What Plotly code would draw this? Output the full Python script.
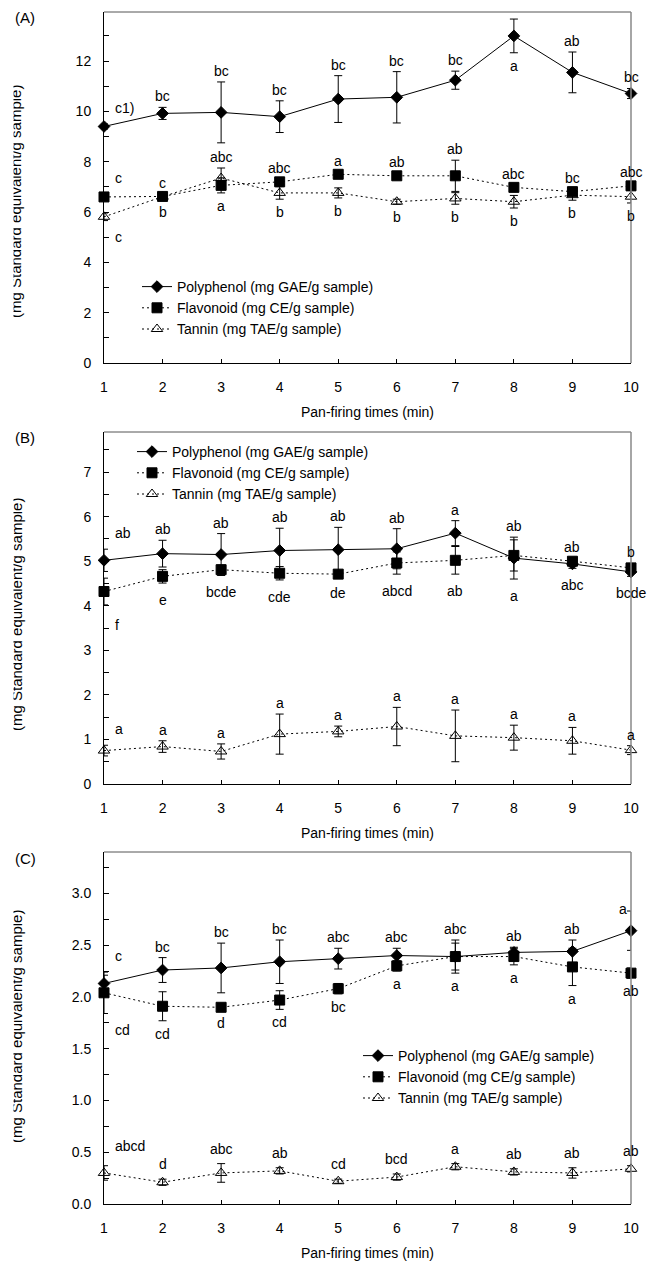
import plotly.graph_objects as go

minutes = [1, 2, 3, 4, 5, 6, 7, 8, 9, 10]
series_names = ["Polyphenol (mg GAE/g sample)",
                "Flavonoid (mg CE/g sample)",
                "Tannin (mg TAE/g sample)"]
x_title = "Pan-firing times (min)"
y_title = "(mg Standard equivalent/g sample)"

# ---- Panel A ----
a_poly = [9.40, 9.92, 9.96, 9.79, 10.49, 10.56, 11.24, 13.00, 11.55, 10.71]
a_poly_err = [0.10, 0.24, 1.21, 0.63, 0.93, 1.02, 0.36, 0.67, 0.81, 0.20]
a_flav = [6.60, 6.62, 7.06, 7.20, 7.50, 7.44, 7.44, 6.98, 6.81, 7.04]
a_flav_err = [0.10, 0.10, 0.30, 0.10, 0.10, 0.10, 0.62, 0.10, 0.10, 0.10]
a_tan = [5.81, 6.61, 7.35, 6.76, 6.76, 6.41, 6.54, 6.41, 6.67, 6.61]
a_tan_err = [0.15, 0.10, 0.40, 0.25, 0.20, 0.10, 0.23, 0.25, 0.20, 0.25]
a_poly_lab = ["c1)", "bc", "bc", "bc", "bc", "bc", "bc", "a", "ab", "bc"]
a_poly_side = ["up"] * 7 + ["down"] + ["up"] * 2
a_flav_lab = ["c", "c", "abc", "abc", "a", "ab", "ab", "abc", "bc", "abc"]
a_tan_lab = ["c", "b", "a", "b", "b", "b", "b", "b", "b", "b"]

# ---- Panel B ----
b_poly = [5.02, 5.17, 5.15, 5.24, 5.26, 5.28, 5.63, 5.07, 4.94, 4.76]
b_poly_err = [0.25, 0.30, 0.47, 0.50, 0.50, 0.45, 0.28, 0.47, 0.10, 0.10]
b_flav = [4.32, 4.66, 4.81, 4.73, 4.71, 4.96, 5.02, 5.13, 5.00, 4.85]
b_flav_err = [0.30, 0.15, 0.10, 0.15, 0.05, 0.25, 0.31, 0.35, 0.08, 0.10]
b_tan = [0.75, 0.84, 0.73, 1.12, 1.18, 1.29, 1.08, 1.04, 0.97, 0.76]
b_tan_err = [0.12, 0.13, 0.17, 0.45, 0.12, 0.43, 0.58, 0.28, 0.30, 0.10]
b_poly_lab = ["ab", "ab", "ab", "ab", "ab", "ab", "a", "ab", "ab", "b"]
b_flav_lab = ["f", "e", "bcde", "cde", "de", "abcd", "ab", "a", "abc", "bcde"]
b_tan_lab = ["a"] * 10

# ---- Panel C ----
c_poly = [2.13, 2.26, 2.28, 2.34, 2.37, 2.40, 2.39, 2.43, 2.44, 2.64]
c_poly_err = [0.08, 0.12, 0.24, 0.21, 0.10, 0.07, 0.13, 0.05, 0.11, 0.19]
c_flav = [2.04, 1.91, 1.90, 1.97, 2.08, 2.30, 2.39, 2.39, 2.29, 2.23]
c_flav_err = [0.20, 0.14, 0.03, 0.09, 0.05, 0.05, 0.16, 0.08, 0.18, 0.05]
c_tan = [0.30, 0.21, 0.30, 0.32, 0.22, 0.26, 0.36, 0.31, 0.30, 0.34]
c_tan_err = [0.07, 0.03, 0.09, 0.03, 0.02, 0.03, 0.03, 0.03, 0.05, 0.03]
c_poly_lab = ["c", "bc", "bc", "bc", "abc", "abc", "abc", "ab", "ab", "a"]
c_flav_lab = ["cd", "cd", "d", "cd", "bc", "a", "a", "a", "a", "ab"]
c_tan_lab = ["abcd", "d", "abc", "ab", "cd", "bcd", "a", "ab", "ab", "ab"]

# ---- layout geometry ----
# The page body has an 8px margin, so the figure is drawn 8px smaller and all
# planned positions below are given in page pixels.
OFF = 8
W, H = 656 - OFF, 1264 - OFF
ML, MR, MT, MB = 104 - OFF, 25, 12 - OFF, 1264 - 1204
PW = W - ML - MR
PH = H - MT - MB


def pyf(pix):
    return (H - MB - (pix - OFF)) / PH


def pxf(pix):
    return (pix - OFF - ML) / PW


FONT = "Arial, Liberation Sans, sans-serif"
FS = 14

panels = [
    dict(tag="(A)", top=12, bottom=363, yr=[0, 13.95], dtick=2, fmt="d",
         vals=[a_poly, a_flav, a_tan], errs=[a_poly_err, a_flav_err, a_tan_err],
         labs=[a_poly_lab, a_flav_lab, a_tan_lab],
         sides=[a_poly_side, ["up"] * 10, ["down"] * 10],
         groups=[[0], [1, 2], [1, 2]], dn_extra=-3,
         legxy=(137, 271), ytc=202),
    dict(tag="(B)", top=432, bottom=784, yr=[0, 7.9], dtick=1, fmt="d",
         vals=[b_poly, b_flav, b_tan], errs=[b_poly_err, b_flav_err, b_tan_err],
         labs=[b_poly_lab, b_flav_lab, b_tan_lab],
         sides=[["up"] * 10, ["down"] * 10, ["up"] * 10],
         groups=[[0, 1], [0, 1], [2]], dn_extra=-7,
         legxy=(132, 436), ytc=615),
    dict(tag="(C)", top=852, bottom=1204, yr=[0, 3.4], dtick=0.5, fmt=".1f",
         vals=[c_poly, c_flav, c_tan], errs=[c_poly_err, c_flav_err, c_tan_err],
         labs=[c_poly_lab, c_flav_lab, c_tan_lab],
         sides=[["up"] * 10, ["down"] * 10, ["up"] * 10],
         groups=[[0, 1], [0, 1], [2]], dn_extra=-3,
         legxy=(358, 1040), ytc=1027),
]

styles = [
    dict(symbol="diamond", size=9, dash="solid"),
    dict(symbol="square", size=10, dash="2px,3px"),
    dict(symbol="triangle-up-open", size=10, dash="2px,3px"),
]

fig = go.Figure()
ytitles = []
annotations = []
shapes = []
layout_axes = {}

for i, p in enumerate(panels):
    k = "" if i == 0 else str(i + 1)
    xa, ya = "x" + k, "y" + k
    legname = "legend" + k
    for s in range(3):
        st = styles[s]
        fig.add_trace(go.Scatter(
            x=minutes, y=p["vals"][s], name=series_names[s],
            mode="lines+markers", xaxis=xa, yaxis=ya, legend=legname,
            cliponaxis=False,
            line=dict(color="black", width=1, dash=st["dash"]),
            marker=dict(symbol=st["symbol"], size=st["size"], color="black",
                        line=dict(color="black", width=1)),
            error_y=dict(type="data", array=p["errs"][s], color="black",
                         thickness=1, width=4),
        ))
    # significance letters
    v, e = p["vals"], p["errs"]
    for s in range(3):
        grp = p["groups"][s]
        for j in range(10):
            side = p["sides"][s][j]
            anchor_up = max(v[g][j] + e[g][j] for g in grp)
            anchor_dn = min(v[g][j] - e[g][j] for g in grp)
            if s == 0 and side == "down":
                anchor_dn = v[0][j] - e[0][j]
            ann = dict(x=minutes[j], xref=xa, yref=ya, text=p["labs"][s][j],
                       showarrow=False,
                       font=dict(family=FONT, size=FS, color="black"))
            if side == "up":
                extra = 5 if (s == 2 and i == 2) else 1
                ann.update(y=anchor_up, yanchor="bottom", yshift=extra)
            else:
                ann.update(y=anchor_dn, yanchor="top", yshift=p["dn_extra"])
            if j == 0:
                ann.update(xanchor="left", xshift=9)
                ann["yshift"] += 5 if side == "up" else -3
            if i == 2 and s == 0 and j == 9:
                ann.update(xanchor="right", yanchor="middle", xshift=-2,
                           yshift=2, y=v[s][j] + e[s][j])
            annotations.append(ann)

    ydom = [pyf(p["bottom"]), pyf(p["top"])]
    layout_axes["xaxis" + k] = dict(
        domain=[0, 1], range=[1, 10], anchor=ya, tickvals=minutes,
        ticks="inside", ticklen=4, tickcolor="black", showline=True,
        linecolor="black", linewidth=1, showgrid=False, zeroline=False,
        tickfont=dict(family=FONT, size=FS, color="black"),
        ticklabelstandoff=11)
    layout_axes["yaxis" + k] = dict(
        domain=ydom, range=p["yr"], anchor=xa, dtick=p["dtick"], tick0=0,
        tickformat=p["fmt"], ticks="inside", ticklen=5, tickcolor="black",
        minor=dict(ticks="inside", ticklen=5, dtick=p["dtick"] / 2,
                   tickcolor="black", showgrid=False),
        showline=True, linecolor="black", linewidth=1, showgrid=False,
        zeroline=False, tickfont=dict(family=FONT, size=FS, color="black"),
        ticklabelstandoff=9)
    layout_axes[legname] = dict(
        x=pxf(p["legxy"][0]), y=pyf(p["legxy"][1]), xanchor="left",
        yanchor="top", bgcolor="rgba(0,0,0,0)", borderwidth=0,
        font=dict(family=FONT, size=FS, color="black"), tracegroupgap=0)
    # frame top / right
    xd, yd = xa + " domain", ya + " domain"
    shapes.append(dict(type="line", xref=xd, yref=yd, x0=0, x1=1, y0=1, y1=1,
                       line=dict(color="#555555", width=1)))
    shapes.append(dict(type="line", xref=xd, yref=yd, x0=1, x1=1, y0=0, y1=1,
                       line=dict(color="#888888", width=1.5)))
    # x title
    annotations.append(dict(text=x_title, xref=xd, yref=yd, x=0.5, y=0,
                            yshift=-49, yanchor="middle", showarrow=False,
                            font=dict(family=FONT, size=FS, color="black")))
    # panel tag
    annotations.append(dict(text=p["tag"], xref="paper", yref="paper",
                            x=pxf(25), y=pyf(p["top"] + 6), xanchor="center",
                            yanchor="middle", showarrow=False,
                            font=dict(family=FONT, size=15, color="black")))
    # y title (its left part is cropped in the original)
    ytitles.append(dict(text=y_title, xref="paper", yref="paper",
                        x=pxf(16), y=pyf(p["ytc"]), xanchor="center",
                        yanchor="middle", textangle=-90, showarrow=False,
                        font=dict(family=FONT, size=15, color="black")))

# white strip that hides the left part of the y titles
mask = dict(text="\u00a0", xref="paper", yref="paper", x=pxf(OFF), y=0.5,
            xanchor="left", yanchor="middle", width=4, height=H,
            bgcolor="white", showarrow=False, borderpad=0,
            font=dict(size=1, color="white"))

fig.update_layout(
    width=W, height=H, margin=dict(l=ML, r=MR, t=MT, b=MB, autoexpand=False),
    paper_bgcolor="white", plot_bgcolor="white",
    font=dict(family=FONT, size=FS, color="black"),
    showlegend=True, annotations=ytitles + [mask] + annotations,
    shapes=shapes, **layout_axes)

fig.write_html("out.html")
